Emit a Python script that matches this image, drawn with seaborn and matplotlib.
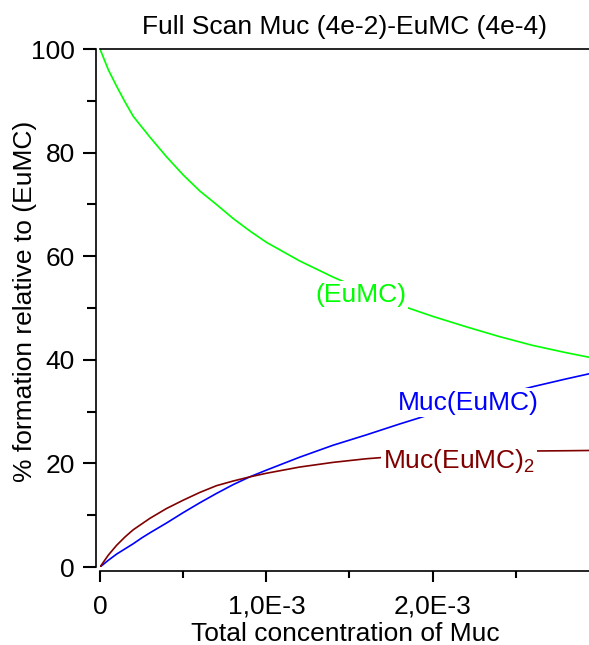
import numpy as np
import pandas as pd
import matplotlib
matplotlib.use("Agg")
import matplotlib.pyplot as plt
import seaborn as sns
from matplotlib.ticker import MultipleLocator, FixedLocator, FuncFormatter

# total Muc concentration (mol/L)
conc = [0.0, 0.05e-3, 0.1e-3, 0.15e-3, 0.2e-3, 0.25e-3, 0.3e-3, 0.4e-3,
        0.5e-3, 0.6e-3, 0.7e-3, 0.8e-3, 0.9e-3, 1.0e-3, 1.2e-3, 1.4e-3,
        1.6e-3, 1.8e-3, 2.0e-3, 2.2e-3, 2.4e-3, 2.6e-3, 2.8e-3, 2.94e-3]

# % formation relative to (EuMC)
eumc = [100.0, 96.0, 92.8, 89.8, 87.0, 85.0, 83.0, 79.2,
        75.7, 72.6, 70.0, 67.3, 64.9, 62.7, 59.1, 56.0,
        53.2, 50.6, 48.4, 46.4, 44.5, 42.8, 41.4, 40.5]
muc_eumc = [0.0, 1.3, 2.5, 3.5, 4.5, 5.6, 6.6, 8.5,
            10.5, 12.4, 14.2, 15.9, 17.4, 18.7, 21.2, 23.5,
            25.5, 27.6, 29.6, 31.4, 33.1, 34.8, 36.3, 37.3]
muc_eumc2 = [0.0, 2.3, 4.2, 5.8, 7.2, 8.3, 9.4, 11.3,
             12.9, 14.4, 15.7, 16.6, 17.4, 18.1, 19.3, 20.2,
             20.9, 21.4, 21.8, 22.1, 22.3, 22.4, 22.45, 22.5]

species = ["(EuMC)", "Muc(EuMC)", "Muc(EuMC)2"]
colors = {"(EuMC)": "#00ff00", "Muc(EuMC)": "#0000ff", "Muc(EuMC)2": "#800000"}

df = pd.concat([
    pd.DataFrame({"conc": conc, "pct": vals, "species": name})
    for name, vals in zip(species, [eumc, muc_eumc, muc_eumc2])
])

sns.set_style("ticks")
plt.rcParams["font.family"] = ["Liberation Sans", "DejaVu Sans"]
plt.rcParams["mathtext.fontset"] = "custom"
plt.rcParams["mathtext.rm"] = "Liberation Sans"
plt.rcParams["mathtext.it"] = "Liberation Sans:italic"
plt.rcParams["text.color"] = "black"

FS = 19

fig = plt.figure(figsize=(5.89, 6.45), dpi=100)
ax = fig.add_axes([0.1698, 0.1209, 0.8302, 0.803])

sns.lineplot(data=df, x="conc", y="pct", hue="species", palette=colors,
             estimator=None, sort=True, linewidth=1.2, legend=False, ax=ax)

ax.set_xlim(0, 2.94e-3)
ax.set_ylim(0, 100)

ax.yaxis.set_major_locator(MultipleLocator(20))
ax.yaxis.set_minor_locator(MultipleLocator(10))
ax.xaxis.set_major_locator(FixedLocator([0, 1e-3, 2e-3]))
ax.xaxis.set_minor_locator(FixedLocator([0.5e-3, 1.5e-3, 2.5e-3]))
ax.xaxis.set_major_formatter(FuncFormatter(
    lambda v, p: "0" if abs(v) < 1e-9 else f"{v * 1e3:.1f}E-3".replace(".", ",")))

ax.tick_params(axis="y", which="major", direction="out", length=9.1, width=1.5,
               pad=6.0, labelsize=FS, color="black", labelcolor="black")
ax.tick_params(axis="y", which="minor", direction="out", length=6.3, width=1.5,
               color="black")
ax.tick_params(axis="x", which="major", direction="out", length=8.0, width=1.5,
               pad=9.0, labelsize=FS, color="black", labelcolor="black")
ax.tick_params(axis="x", which="minor", direction="out", length=5.0, width=1.5,
               color="black")

for side in ["left", "bottom", "top"]:
    ax.spines[side].set_color("black")
    ax.spines[side].set_linewidth(1.2)
ax.spines["right"].set_visible(False)
ax.spines["left"].set_position(("outward", 3))
ax.spines["bottom"].set_position(("outward", 3))

ax.set_xlabel("")
ax.set_ylabel("")
ax.set_title("Full Scan Muc (4e-2)-EuMC (4e-4)", fontsize=FS, pad=10.8,
             color="black")
fig.text(0.586, 0.0062, "Total concentration of Muc", fontsize=FS,
         ha="center", va="baseline")
fig.text(0.0424, 0.5333, "% formation relative to (EuMC)", fontsize=FS,
         rotation=90, ha="center", va="center")

box = dict(boxstyle="square,pad=0.08", facecolor="white", edgecolor="none")
ax.text(1.568e-3, 51.2, "(EuMC)", color=colors["(EuMC)"], fontsize=FS,
        ha="center", va="baseline", bbox=box)
ax.text(2.216e-3, 30.4, "Muc(EuMC)", color=colors["Muc(EuMC)"], fontsize=FS,
        ha="center", va="baseline", bbox=box)
ax.text(2.16e-3, 19.2, r"Muc(EuMC)$_\mathrm{2}$", color=colors["Muc(EuMC)2"],
        fontsize=FS, ha="center", va="baseline", bbox=box)

fig.savefig("out.png", dpi=100)
